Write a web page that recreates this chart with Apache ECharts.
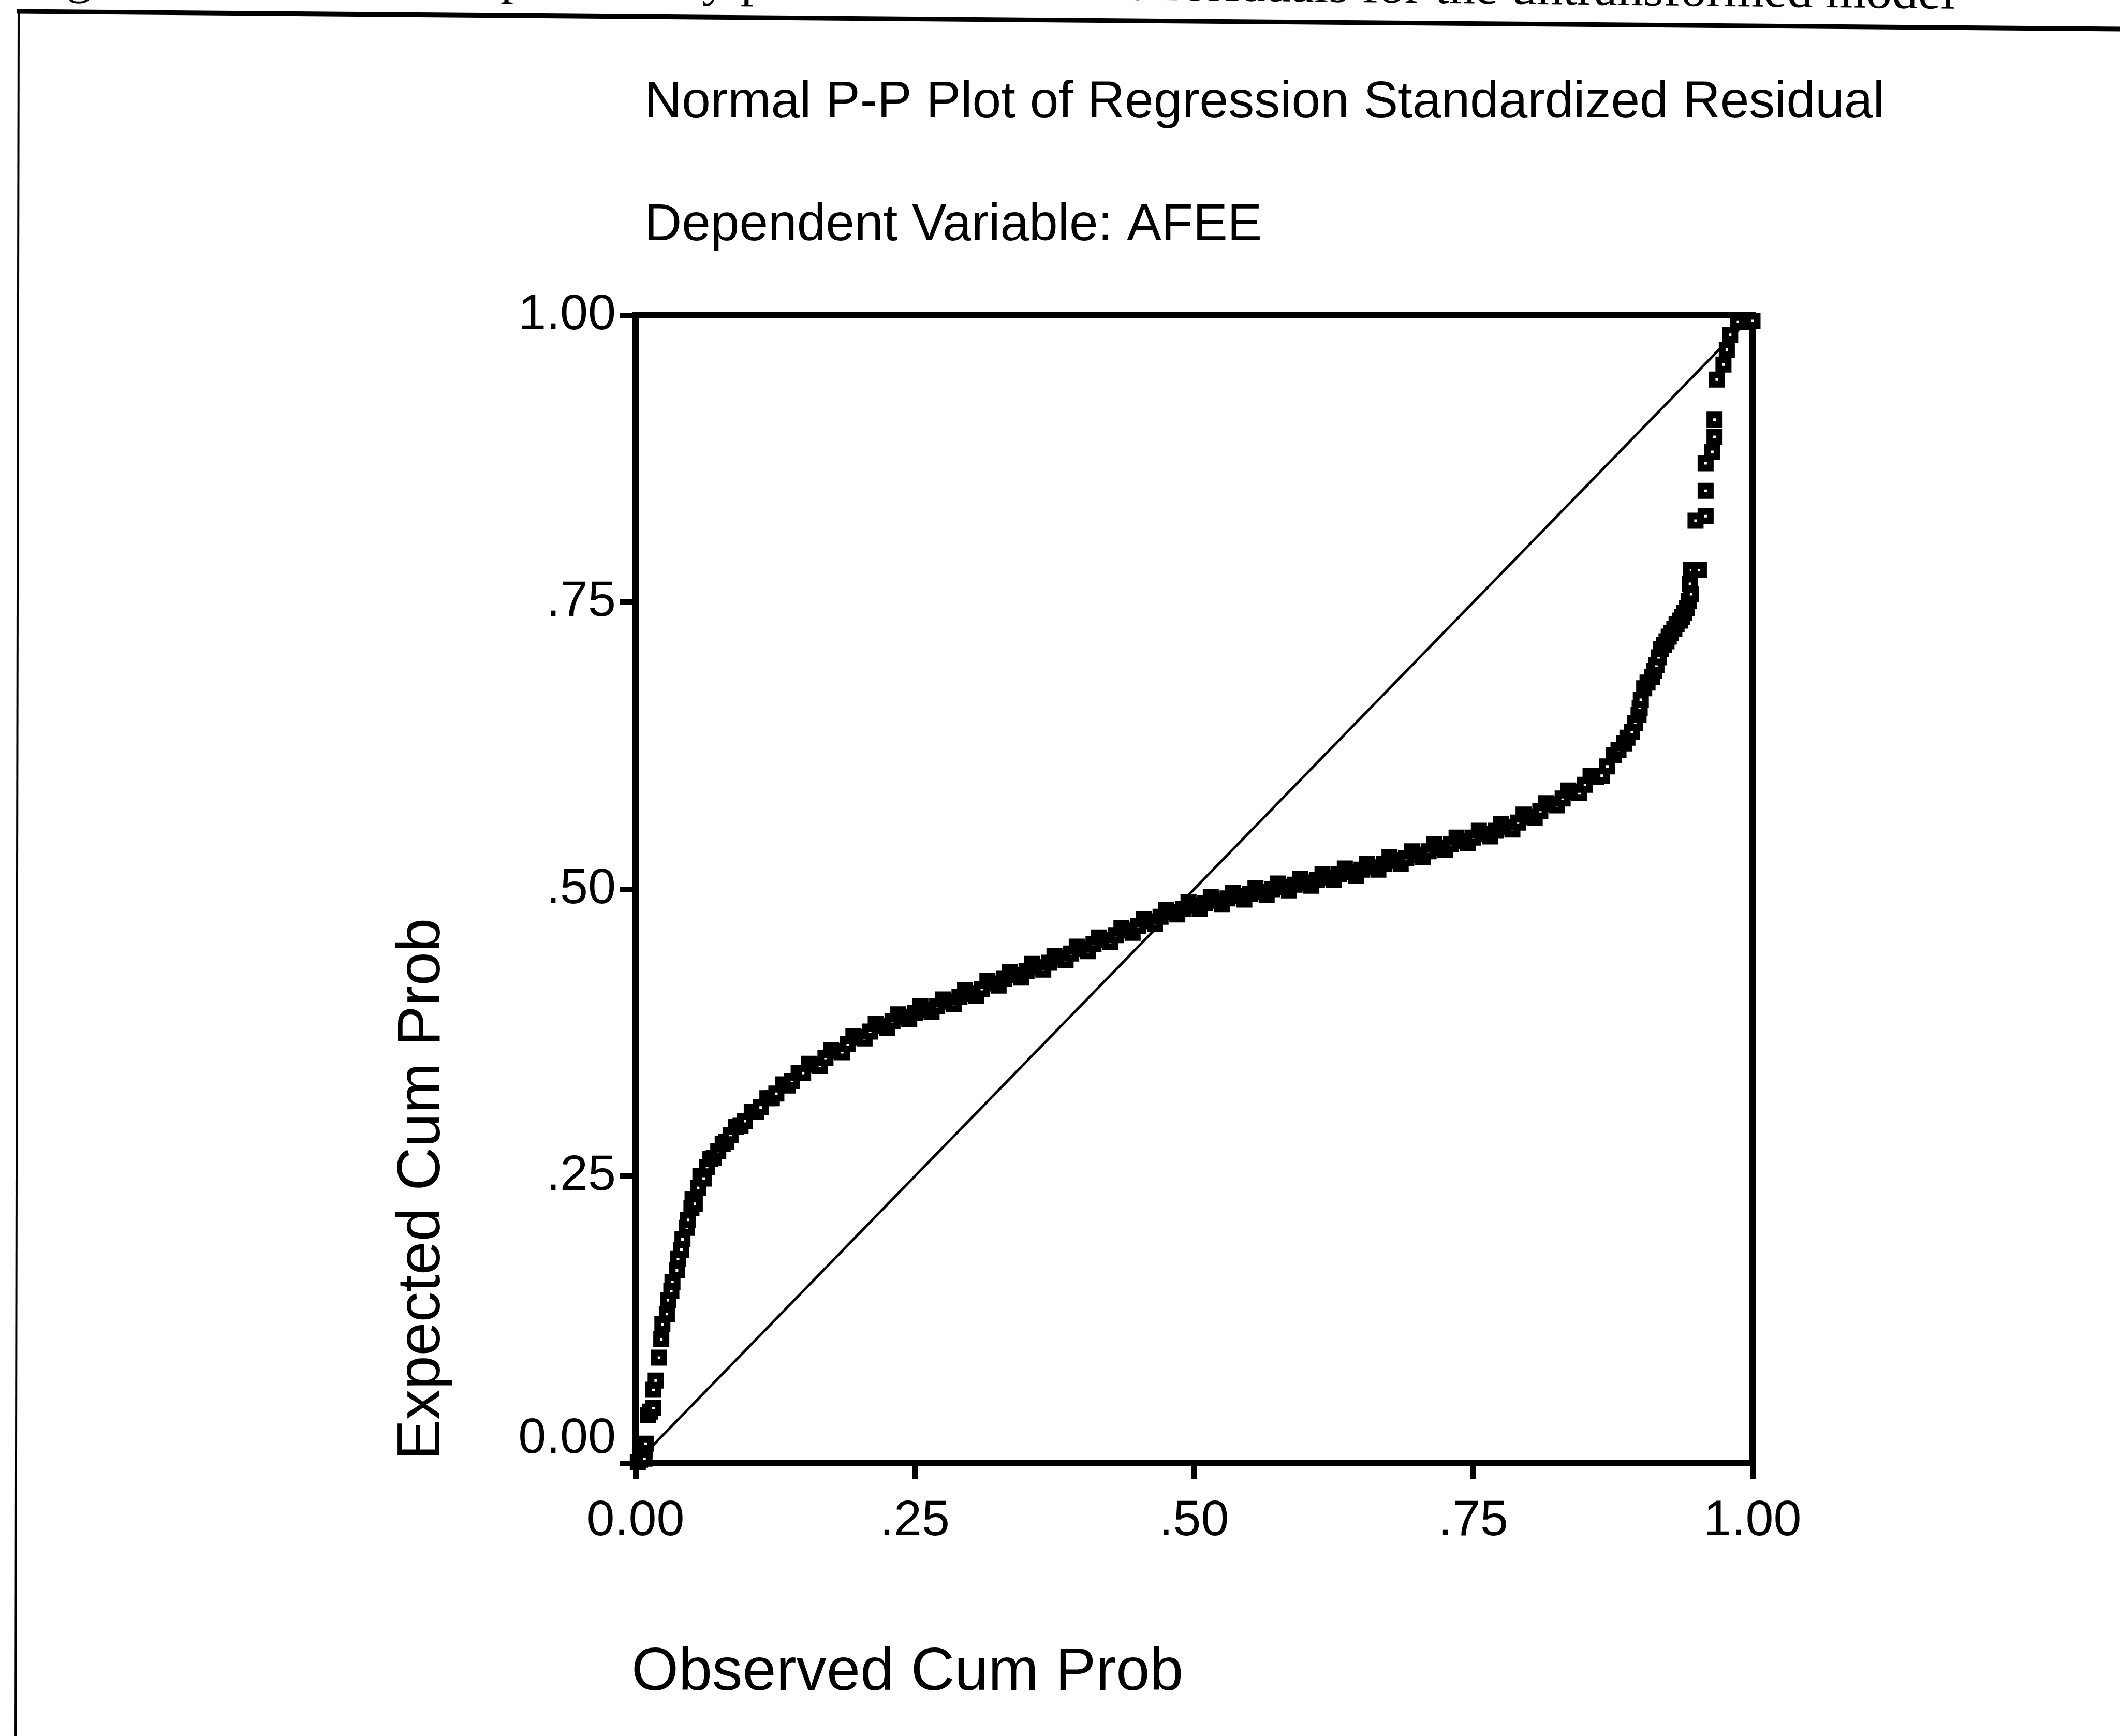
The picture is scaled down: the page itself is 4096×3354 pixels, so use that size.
<!DOCTYPE html>
<html>
<head>
<meta charset="utf-8">
<script src="https://cdn.jsdelivr.net/npm/echarts@6/dist/echarts.min.js"></script>
<style>
html,body{margin:0;padding:0;background:#fff;}
#chart{width:4096px;height:3354px;}
</style>
</head>
<body>
<div id="chart"></div>
<script>
// ---- data ----
const xTickLabels = ['0.00', '.25', '.50', '.75', '1.00'];
const yTickLabels = ['0.00', '.25', '.50', '.75', '1.00'];

// lower tail (steep rise near 0)
const lowerObserved = [
  0.002,0.004,0.006,0.008,0.008,0.009,0.011,0.013,0.016,0.016,
  0.018,0.021,0.023,0.024,0.028,0.029,0.032,0.033,0.037,0.038,
  0.041,0.042,0.046,0.047,0.050,0.051,0.053,0.056,0.058,0.061,
  0.064,0.067,0.070,0.074,0.078,0.081,0.085,0.090,0.094,0.098,
  0.104,0.108,0.112,0.118,0.122,0.126,0.132,0.136,0.140,0.146
];
const lowerExpected = [
  0.001,0.003,0.006,0.004,0.012,0.017,0.042,0.045,0.048,0.064,
  0.072,0.092,0.108,0.121,0.130,0.142,0.150,0.158,0.168,0.178,
  0.186,0.195,0.205,0.212,0.222,0.230,0.226,0.240,0.250,0.248,
  0.258,0.265,0.266,0.272,0.278,0.280,0.286,0.293,0.294,0.298,
  0.306,0.306,0.310,0.318,0.318,0.322,0.330,0.329,0.333,0.340
];

// flat middle body
const bodyObserved = [
  0.150,0.155,0.160,0.165,0.170,0.175,0.180,0.185,0.190,0.195,
  0.200,0.205,0.210,0.215,0.220,0.225,0.230,0.235,0.240,0.245,
  0.250,0.255,0.260,0.265,0.270,0.275,0.280,0.285,0.290,0.295,
  0.300,0.305,0.310,0.315,0.320,0.325,0.330,0.335,0.340,0.345,
  0.350,0.355,0.360,0.365,0.370,0.375,0.380,0.385,0.390,0.395,
  0.400,0.405,0.410,0.415,0.420,0.425,0.430,0.435,0.440,0.445,
  0.450,0.455,0.460,0.465,0.470,0.475,0.480,0.485,0.490,0.495,
  0.500,0.505,0.510,0.515,0.520,0.525,0.530,0.535,0.540,0.545,
  0.550,0.555,0.560,0.565,0.570,0.575,0.580,0.585,0.590,0.595,
  0.600,0.605,0.610,0.615,0.620,0.625,0.630,0.635,0.640,0.645,
  0.650,0.655,0.660,0.665,0.670,0.675,0.680,0.685,0.690,0.695,
  0.700,0.705,0.710,0.715,0.720,0.725,0.730,0.735,0.740,0.745,
  0.750,0.755,0.760,0.765,0.770,0.775,0.780,0.785,0.790,0.795,
  0.800,0.805,0.810,0.815,0.820,0.825,0.830,0.835,0.840,0.845,
  0.850,0.855,0.860,0.865,0.870
];
const bodyExpected = [
  0.340,0.348,0.347,0.346,0.353,0.360,0.359,0.358,0.365,0.372,
  0.371,0.370,0.376,0.383,0.381,0.379,0.385,0.391,0.389,0.387,
  0.392,0.398,0.395,0.393,0.398,0.404,0.402,0.400,0.406,0.412,
  0.409,0.407,0.413,0.420,0.418,0.416,0.422,0.428,0.425,0.423,
  0.429,0.435,0.432,0.430,0.436,0.442,0.440,0.438,0.444,0.450,
  0.448,0.446,0.452,0.458,0.456,0.454,0.460,0.466,0.464,0.462,
  0.468,0.474,0.472,0.470,0.476,0.482,0.480,0.478,0.483,0.489,
  0.486,0.483,0.488,0.493,0.490,0.487,0.492,0.497,0.494,0.491,
  0.496,0.501,0.498,0.495,0.500,0.505,0.502,0.499,0.504,0.509,
  0.506,0.503,0.508,0.513,0.510,0.508,0.513,0.518,0.515,0.512,
  0.517,0.522,0.519,0.517,0.522,0.528,0.525,0.522,0.527,0.533,
  0.530,0.528,0.533,0.539,0.536,0.534,0.539,0.545,0.542,0.540,
  0.545,0.551,0.548,0.546,0.551,0.557,0.554,0.552,0.558,0.565,
  0.563,0.562,0.568,0.575,0.574,0.573,0.579,0.586,0.585,0.584,
  0.591,0.599,0.598,0.599,0.607
];

// upper tail (steep rise near 1)
const upperObserved = [
  0.876,0.880,0.885,0.888,0.892,0.895,0.898,0.899,0.900,0.903,
  0.906,0.910,0.912,0.914,0.916,0.918,0.921,0.923,0.925,0.927,
  0.930,0.932,0.935,0.937,0.939,0.941,0.943,0.945,0.944,0.945,
  0.952,0.949,0.958,0.958,0.958,0.964,0.966,0.966,0.968,0.974,
  0.977,0.980,0.987,0.995,1.000
];
const upperExpected = [
  0.617,0.621,0.627,0.632,0.637,0.645,0.652,0.658,0.665,0.675,
  0.680,0.685,0.690,0.695,0.702,0.709,0.713,0.716,0.720,0.723,
  0.727,0.731,0.734,0.737,0.741,0.745,0.751,0.757,0.766,0.778,
  0.778,0.821,0.825,0.847,0.871,0.881,0.894,0.909,0.944,0.957,
  0.970,0.983,0.994,0.994,0.995
];

const referenceLineX = [0, 1];
const referenceLineY = [0, 1];

// ---- build chart ----
const observedCumProb = lowerObserved.concat(bodyObserved, upperObserved);
const expectedCumProb = lowerExpected.concat(bodyExpected, upperExpected);
const points = observedCumProb.map((x, i) => [x, expectedCumProb[i]]);
const refLine = referenceLineX.map((x, i) => [x, referenceLineY[i]]);

const SANS = '"Liberation Sans", Arial, Helvetica, sans-serif';
const SERIF = '"Liberation Serif", "Times New Roman", serif';

function tickIndex(v) { return Math.round(v * 4); }

const chart = echarts.init(document.getElementById('chart'), null, {renderer: 'canvas'});

function txt(text, x, y, size, opts) {
  opts = opts || {};
  return {
    type: 'text', x: x, y: y, rotation: opts.rotation || 0, silent: true,
    style: {
      text: text,
      font: (opts.weight || 'normal') + ' ' + size + 'px ' + (opts.family || SANS),
      fill: '#000',
      textAlign: opts.align || 'left', align: opts.align || 'left',
      textVerticalAlign: 'middle', verticalAlign: 'middle'
    }
  };
}

const option = {
  backgroundColor: '#ffffff',
  animation: false,
  grid: {
    left: 1228, top: 609, width: 2158, height: 2218,
    show: true, borderColor: '#000', borderWidth: 12,
    backgroundColor: 'transparent', containLabel: false
  },
  xAxis: {
    type: 'value', min: 0, max: 1, interval: 0.25,
    axisLine: {show: true, onZero: false, lineStyle: {color: '#000', width: 12}},
    axisTick: {show: true, inside: false, length: 30, lineStyle: {color: '#000', width: 11}},
    splitLine: {show: false},
    axisLabel: {
      margin: 64, fontSize: 97, fontFamily: SANS, color: '#000',
      formatter: function (v) { return xTickLabels[tickIndex(v)]; }
    }
  },
  yAxis: {
    type: 'value', min: 0, max: 1, interval: 0.25,
    axisLine: {show: true, onZero: false, lineStyle: {color: '#000', width: 12}},
    axisTick: {show: true, inside: false, length: 30, lineStyle: {color: '#000', width: 11}},
    splitLine: {show: false},
    axisLabel: {
      margin: 38, fontSize: 97, fontFamily: SANS, color: '#000',
      formatter: function (v) {
        const i = tickIndex(v);
        return i === 0 ? '{lift|' + yTickLabels[i] + '}' : yTickLabels[i];
      },
      rich: {
        lift: {fontSize: 97, fontFamily: SANS, color: '#000', padding: [0, 0, 94, 0]}
      }
    }
  },
  series: [
    {
      type: 'line', data: refLine, showSymbol: false, symbol: 'none',
      lineStyle: {color: '#000', width: 5}, z: 2, silent: true
    },
    {
      type: 'scatter', data: points, symbol: 'rect', symbolSize: 18, clip: false,
      itemStyle: {color: '#ffffff', borderColor: '#000', borderWidth: 13, opacity: 1},
      z: 3, silent: true
    }
  ],
  graphic: [
    // scanned page frame
    {type: 'line', silent: true, shape: {x1: 33, y1: 22, x2: 4096, y2: 56}, style: {stroke: '#000', lineWidth: 9}},
    {type: 'line', silent: true, shape: {x1: 36, y1: 20, x2: 30, y2: 3354}, style: {stroke: '#000', lineWidth: 4}},
    // cut-off caption above the frame
    txt('Figure 4.12:', 45, -42, 100, {family: SERIF, rotation: -0.008}),
    txt('Normal probability plot of standardized residuals for the untransformed model', 637, -44, 100, {family: SERIF, rotation: -0.011}),
    // titles
    txt('Normal P-P Plot of Regression Standardized Residual', 1245, 199, 100),
    txt('Dependent Variable: AFEE', 1245, 436, 100),
    // axis names
    txt('Observed Cum Prob', 1220, 3233, 117),
    txt('Expected Cum Prob', 817, 2821, 117, {rotation: Math.PI / 2})
  ]
};

chart.setOption(option);
</script>
</body>
</html>
